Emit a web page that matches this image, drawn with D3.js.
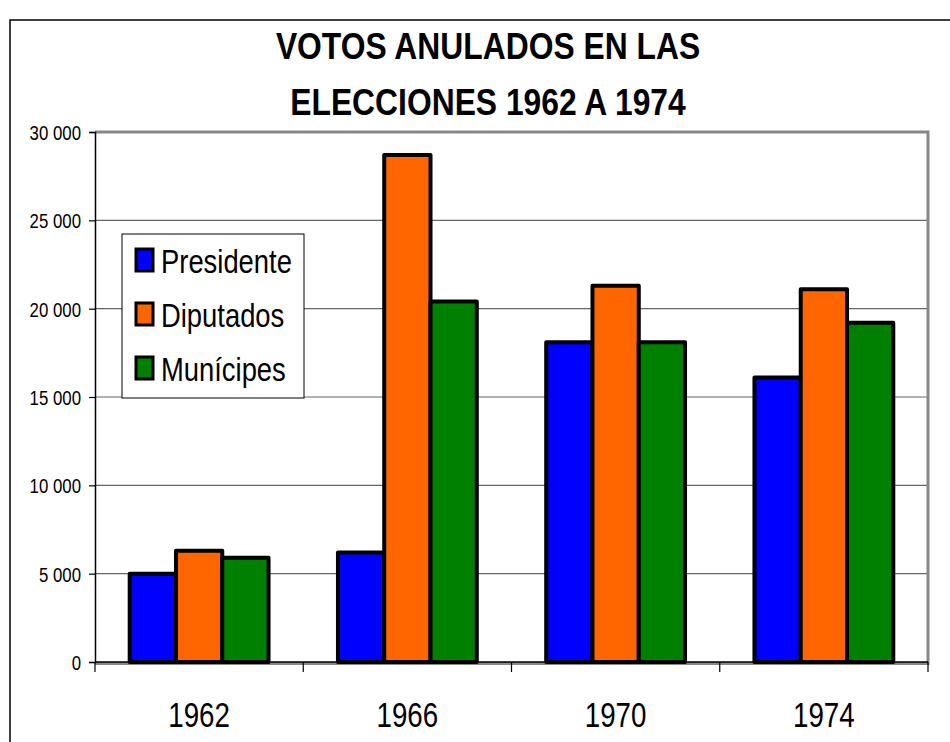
<!DOCTYPE html>
<html>
<head>
<meta charset="utf-8">
<script src="https://cdn.jsdelivr.net/npm/d3@7"></script>
<style>
  body { margin: 0; background: #fff; }
  text { font-family: "Liberation Sans", Arial, sans-serif; fill: #000; }
</style>
</head>
<body>
<svg id="chart" width="950" height="742"></svg>
<script>
// data
var years = ["1962", "1966", "1970", "1974"];
var seriesNames = ["Presidente", "Diputados", "Munícipes"];
var presidente = [5000, 6200, 18100, 16100];
var diputados  = [6300, 28700, 21300, 21100];
var municipes  = [5900, 20400, 18100, 19200];
var yTicks = [0, 5000, 10000, 15000, 20000, 25000, 30000];
var titleLines = ["VOTOS ANULADOS EN LAS", "ELECCIONES 1962 A 1974"];

(function(){
    var colors = ["#0000ff", "#ff6600", "#008000"];
    var values = [presidente, diputados, municipes];
    var narrow = 0.82; // no Arial Narrow here, squeeze Liberation Sans instead

    var svg = d3.select("#chart");
    var pLeft = 95, pRight = 928, pTop = 132, pBottom = 662;

    function squeezed(sel, x, y, k){
        sel.attr("transform", "translate(" + x + "," + y + ") scale(" + (k || narrow) + ",1)");
    }

    // outer chart frame (runs past the window)
    svg.append("rect")
        .attr("x", 10).attr("y", 20)
        .attr("width", 1000).attr("height", 800)
        .attr("fill", "none")
        .attr("stroke", "#000")
        .attr("stroke-width", 1.5);

    // title
    svg.append("g").selectAll("text")
        .data(titleLines)
        .enter().append("text")
        .each(function(d, i){ squeezed(d3.select(this), 488, 59 + i * 56, 0.86); })
        .attr("text-anchor", "middle")
        .style("font-size", "37px")
        .style("font-weight", "bold")
        .text(function(d){ return d; });

    var x0 = d3.scaleBand()
        .domain(years)
        .range([pLeft, pRight])
        .paddingInner(1/3)
        .paddingOuter(1/6);

    var x1 = d3.scaleBand()
        .domain(seriesNames)
        .range([0, x0.bandwidth()]);

    var y = d3.scaleLinear()
        .domain([0, 30000])
        .range([pBottom, pTop]);

    var fmt = d3.formatLocale({ decimal: ",", thousands: " ", grouping: [3], currency: ["", ""] }).format(",d");

    // gridlines
    svg.append("g").selectAll("line")
        .data(yTicks.filter(function(d){ return d > 0 && d < 30000; }))
        .enter().append("line")
        .attr("x1", pLeft).attr("x2", pRight)
        .attr("y1", function(d){ return y(d); })
        .attr("y2", function(d){ return y(d); })
        .attr("stroke", "#666")
        .attr("stroke-width", 1.2);

    // plot area border (gray)
    svg.append("path")
        .attr("d", "M" + pLeft + "," + pTop + "H" + pRight + "V" + (pBottom + 1.5) + "H" + pLeft)
        .attr("fill", "none")
        .attr("stroke", "#888")
        .attr("stroke-width", 3);

    // bars
    var groups = svg.append("g").selectAll("g")
        .data(years)
        .enter().append("g")
        .attr("transform", function(d){ return "translate(" + x0(d) + ",0)"; });

    groups.selectAll("rect")
        .data(function(d, i){
            return seriesNames.map(function(s, j){ return { name: s, value: values[j][i], color: colors[j] }; });
        })
        .enter().append("rect")
        .attr("x", function(d){ return x1(d.name); })
        .attr("y", function(d){ return y(d.value); })
        .attr("width", x1.bandwidth())
        .attr("height", function(d){ return y(0) - y(d.value); })
        .attr("fill", function(d){ return d.color; })
        .attr("stroke", "#000")
        .attr("stroke-width", 4)
        .attr("stroke-linejoin", "round");

    // y axis
    var yAxis = svg.append("g")
        .attr("transform", "translate(" + pLeft + ",0)")
        .call(d3.axisLeft(y).tickValues(yTicks).tickFormat(fmt).tickSize(6).tickPadding(8));
    yAxis.select(".domain").attr("stroke", "#000").attr("stroke-width", 1.5);
    yAxis.selectAll(".tick line").attr("stroke", "#000").attr("stroke-width", 1.2);
    yAxis.selectAll(".tick text")
        .attr("x", -14 / narrow)
        .attr("dy", "0.36em")
        .attr("transform", "scale(" + narrow + ",1)")
        .style("font-size", "20.5px")
        .style("font-family", "'Liberation Sans', Arial, sans-serif");

    // x axis: ticks at band boundaries, labels at band centres
    var xAxis = svg.append("g");
    xAxis.append("line")
        .attr("x1", pLeft).attr("x2", pRight)
        .attr("y1", pBottom).attr("y2", pBottom)
        .attr("stroke", "#000")
        .attr("stroke-width", 1.5);
    var bounds = years.map(function(d){ return x0(d) - x0.step() * x0.paddingInner() / 2; }).concat([pRight]);
    xAxis.selectAll("line.tk")
        .data(bounds)
        .enter().append("line")
        .attr("class", "tk")
        .attr("x1", function(d){ return d; }).attr("x2", function(d){ return d; })
        .attr("y1", pBottom).attr("y2", pBottom + 10)
        .attr("stroke", "#000")
        .attr("stroke-width", 1.2);
    xAxis.selectAll("text")
        .data(years)
        .enter().append("text")
        .each(function(d){ squeezed(d3.select(this), x0(d) + x0.bandwidth() / 2, 727, 0.77); })
        .attr("text-anchor", "middle")
        .style("font-size", "36px")
        .text(function(d){ return d; });

    // legend
    var legend = svg.append("g").attr("transform", "translate(122,234)");
    legend.append("rect")
        .attr("width", 182).attr("height", 164)
        .attr("fill", "#fff")
        .attr("stroke", "#000")
        .attr("stroke-width", 1);
    var items = legend.selectAll("g")
        .data(seriesNames)
        .enter().append("g")
        .attr("transform", function(d, i){ return "translate(0," + (i * 54) + ")"; });
    items.append("rect")
        .attr("x", 14).attr("y", 15)
        .attr("width", 17).attr("height", 22)
        .attr("fill", function(d, i){ return colors[i]; })
        .attr("stroke", "#000")
        .attr("stroke-width", 3);
    items.append("text")
        .each(function(){ squeezed(d3.select(this), 39, 39, 0.83); })
        .style("font-size", "33px")
        .text(function(d){ return d; });
})();
</script>
</body>
</html>
